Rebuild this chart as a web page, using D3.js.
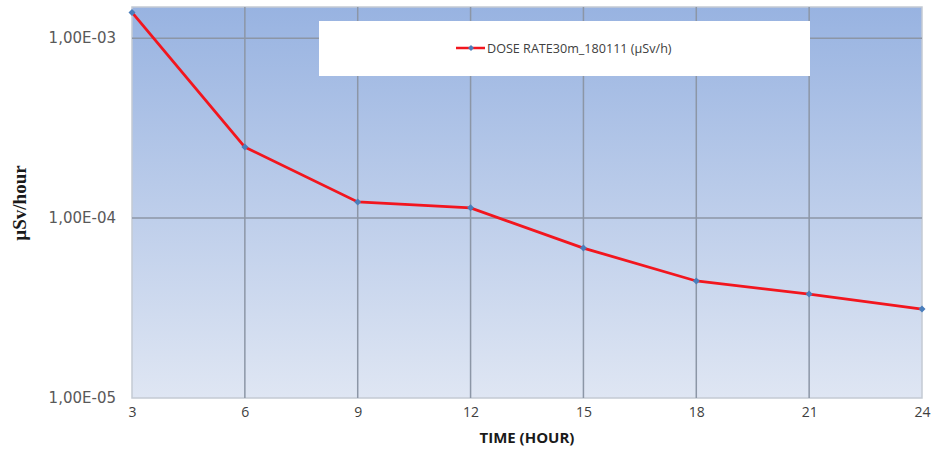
<!DOCTYPE html>
<html>
<head>
<meta charset="utf-8">
<script src="https://cdn.jsdelivr.net/npm/d3@7"></script>
<style>
  body { margin: 0; background: #fff; }
  .tick_label { font-family: "DejaVu Sans", Verdana, sans-serif; font-size: 15px; fill: #595959; }
  .x_label { font-family: "Open Sans", "Liberation Sans", sans-serif; font-size: 14px; fill: #404040; }
  .axis_title { font-weight: bold; fill: #1a1a1a; }
</style>
</head>
<body>
<div id="chart"></div>
<script>
var hours = [3, 6, 9, 12, 15, 18, 21, 24]
var dose_rate = [1.39e-3, 2.48e-4, 1.23e-4, 1.14e-4, 6.81e-5, 4.47e-5, 3.78e-5, 3.12e-5]
var y_ticks = [1e-5, 1e-4, 1e-3]
var y_tick_labels = ["1,00E-05", "1,00E-04", "1,00E-03"]
var series_name = "DOSE RATE30m_180111 (µSv/h)"

var width = 931, height = 450
var plot = { "lx": 132, "rx": 922, "ty": 7, "by": 398 }

var svg = d3.select("#chart").append("svg")
  .attr("width", width)
  .attr("height", height)

var x = d3.scaleLinear().domain([3, 24]).range([plot.lx, plot.rx])
var y = d3.scaleLog().domain([1e-5, 1.49e-3]).range([plot.by, plot.ty])

// background gradient like the excel plot area
var defs = svg.append("defs")
var grad = defs.append("linearGradient")
  .attr("id", "plotbg")
  .attr("x1", 0).attr("y1", 0).attr("x2", 0).attr("y2", 1)
grad.append("stop").attr("offset", "0%").attr("stop-color", "#98b3e1")
grad.append("stop").attr("offset", "100%").attr("stop-color", "#dfe6f3")

svg.append("rect")
  .attr("x", plot.lx)
  .attr("y", plot.ty)
  .attr("width", plot.rx - plot.lx)
  .attr("height", plot.by - plot.ty)
  .attr("fill", "url(#plotbg)")
  .attr("stroke", "#c4cad3")
  .attr("stroke-width", 1.5)

// grid lines
svg.append("g").selectAll("line")
  .data(hours.slice(1, -1))
  .join("line")
    .attr("x1", function(d) { return x(d) })
    .attr("x2", function(d) { return x(d) })
    .attr("y1", plot.ty)
    .attr("y2", plot.by)
    .attr("stroke", "#8c96a6")
    .attr("stroke-width", 1.5)

svg.append("g").selectAll("line")
  .data(y_ticks.slice(1))
  .join("line")
    .attr("x1", plot.lx)
    .attr("x2", plot.rx)
    .attr("y1", function(d) { return y(d) })
    .attr("y2", function(d) { return y(d) })
    .attr("stroke", "#8c96a6")
    .attr("stroke-width", 1.5)

// y axis labels
var yAxis = d3.axisLeft(y)
  .tickValues(y_ticks)
  .tickFormat(function(d, i) { return y_tick_labels[i] })
  .tickSize(0)
  .tickPadding(16)
var yg = svg.append("g")
  .attr("transform", "translate(" + plot.lx + ",0)")
  .call(yAxis)
yg.select(".domain").remove()
yg.selectAll("text").attr("class", "tick_label").attr("font-size", null).attr("font-family", null)

// x axis labels
var xAxis = d3.axisBottom(x)
  .tickValues(hours)
  .tickSize(0)
  .tickPadding(9)
var xg = svg.append("g")
  .attr("transform", "translate(0," + plot.by + ")")
  .call(xAxis)
xg.select(".domain").remove()
xg.selectAll("text").attr("class", "x_label").attr("font-size", null).attr("font-family", null)

svg.append("text")
  .attr("class", "axis_title")
  .attr("x", (plot.lx + plot.rx) / 2)
  .attr("y", 443)
  .attr("text-anchor", "middle")
  .attr("font-family", "'Open Sans', 'Liberation Sans', sans-serif")
  .attr("font-size", 15)
  .text("TIME (HOUR)")

svg.append("text")
  .attr("class", "axis_title")
  .attr("transform", "translate(26,203) rotate(-90)")
  .attr("text-anchor", "middle")
  .attr("font-family", "'Liberation Serif', serif")
  .attr("font-size", 19)
  .text("µSv/hour")

// series
var line = d3.line()
  .x(function(d, i) { return x(hours[i]) })
  .y(function(d) { return y(d) })

svg.append("path")
  .datum(dose_rate)
  .attr("fill", "none")
  .attr("stroke", "#f2161e")
  .attr("stroke-width", 2.8)
  .attr("d", line)

svg.append("g").selectAll("path")
  .data(dose_rate)
  .join("path")
    .attr("transform", function(d, i) { return "translate(" + x(hours[i]) + "," + y(d) + ")" })
    .attr("d", "M0,-3.5L3.5,0L0,3.5L-3.5,0Z")
    .attr("fill", "#4a7ebb")

// legend
svg.append("rect")
  .attr("x", 319)
  .attr("y", 21)
  .attr("width", 491)
  .attr("height", 55)
  .attr("fill", "#fff")
var lg = svg.append("g").attr("transform", "translate(456,48)")
lg.append("line")
  .attr("x1", 0).attr("x2", 29).attr("y1", 0).attr("y2", 0)
  .attr("stroke", "#f2161e").attr("stroke-width", 2.5)
lg.append("path")
  .attr("transform", "translate(15,0)")
  .attr("d", "M0,-3L3,0L0,3L-3,0Z")
  .attr("fill", "#4a7ebb")
lg.append("text")
  .attr("x", 31)
  .attr("y", 4.5)
  .attr("font-family", "'Open Sans', 'Liberation Sans', sans-serif")
  .attr("font-size", 12.6)
  .attr("fill", "#404040")
  .text(series_name)
</script>
</body>
</html>
